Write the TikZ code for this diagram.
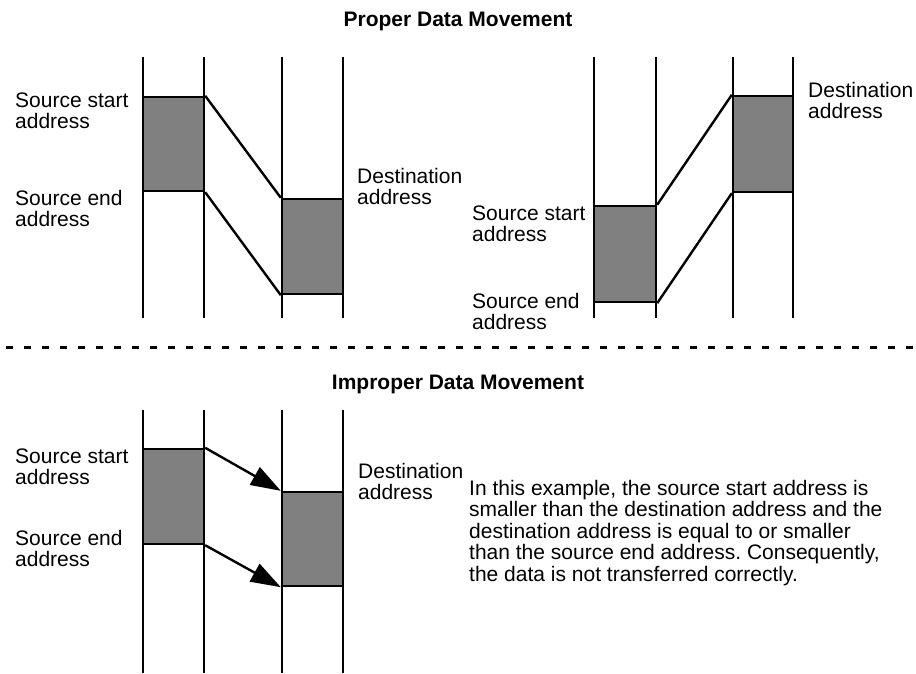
\documentclass[tikz,border=0pt]{standalone}
\usepackage{fontspec}
\setmainfont{Liberation Sans}
\usetikzlibrary{arrows.meta}
\frenchspacing
\definecolor{boxgray}{HTML}{808080}
\tikzset{
  lbl/.style={anchor=base west, inner sep=0pt, align=left, font=\fontsize{21}{21.6}\selectfont},
  ttl/.style={anchor=base, inner sep=0pt, font=\fontsize{21}{21.6}\selectfont\bfseries},
  col/.style={line width=2.4pt},
  memblk/.style={rectangle, draw, line width=2.4pt, fill=boxgray, inner sep=0pt, minimum width=61pt},
  link/.style={line width=2.4pt},
  arr/.style={line width=2.4pt, -{Triangle[length=30pt, width=20pt]}},
  sep/.style={line width=2.6pt, dash pattern=on 7pt off 11pt}
}
\begin{document}
\begin{tikzpicture}[x=1pt,y=-1pt]
\useasboundingbox (0,0) rectangle (916,673);
% titles
\node[ttl] (t1) at (458,26) {Proper Data Movement};
\node[ttl] (t2) at (458,389) {Improper Data Movement};
% separator
\coordinate (s1) at (6,347.5);
\coordinate (s2) at (916,347.5);
\draw[sep] (s1) -- (s2);
% ---------- top left panel ----------
\foreach \x in {143,204,282,343} \draw[col] (\x,57) -- (\x,318);
\node[memblk, minimum height=94pt] (a1) at (173.5,144) {};
\node[memblk, minimum height=95pt] (a2) at (312.5,246.5) {};
\draw[link] (a1.north east) -- (a2.north west);
\draw[link] (a1.south east) -- (a2.south west);
\node[lbl] (la1) at (15,128.6) {Source start\\address};
\node[lbl] (la2) at (15,226.6) {Source end\\address};
\node[lbl] (la3) at (357,204.6) {Destination\\address};
% ---------- top right panel ----------
\foreach \x in {594,656,733,793} \draw[col] (\x,57) -- (\x,318);
\node[memblk, minimum width=62pt, minimum height=96pt] (b1) at (625,254) {};
\node[memblk, minimum width=60pt, minimum height=96pt] (b2) at (763,144) {};
\draw[link] (b1.north east) -- (b2.north west);
\draw[link] (b1.south east) -- (b2.south west);
\node[lbl] (lb1) at (472,241.6) {Source start\\address};
\node[lbl] (lb2) at (472,329.6) {Source end\\address};
\node[lbl] (lb3) at (808,118.6) {Destination\\address};
% ---------- bottom panel ----------
\foreach \x in {143,204,282,343} \draw[col] (\x,410) -- (\x,673);
\node[memblk, minimum height=95pt] (c1) at (173.5,496.5) {};
\node[memblk, minimum height=94pt] (c2) at (312.5,539) {};
\draw[arr] (c1.north east) -- (c2.north west);
\draw[arr] (c1.south east) -- (c2.south west);
\node[lbl] (lc1) at (15,484.6) {Source start\\address};
\node[lbl] (lc2) at (15,566.6) {Source end\\address};
\node[lbl] (lc3) at (358,499.6) {Destination\\address};
\node[lbl] (note) at (469,581.4) {In this example, the source start address is\\smaller than the destination address and the\\destination address is equal to or smaller\\than the source end address. Consequently,\\the data is not transferred correctly.};
\end{tikzpicture}
\end{document}
